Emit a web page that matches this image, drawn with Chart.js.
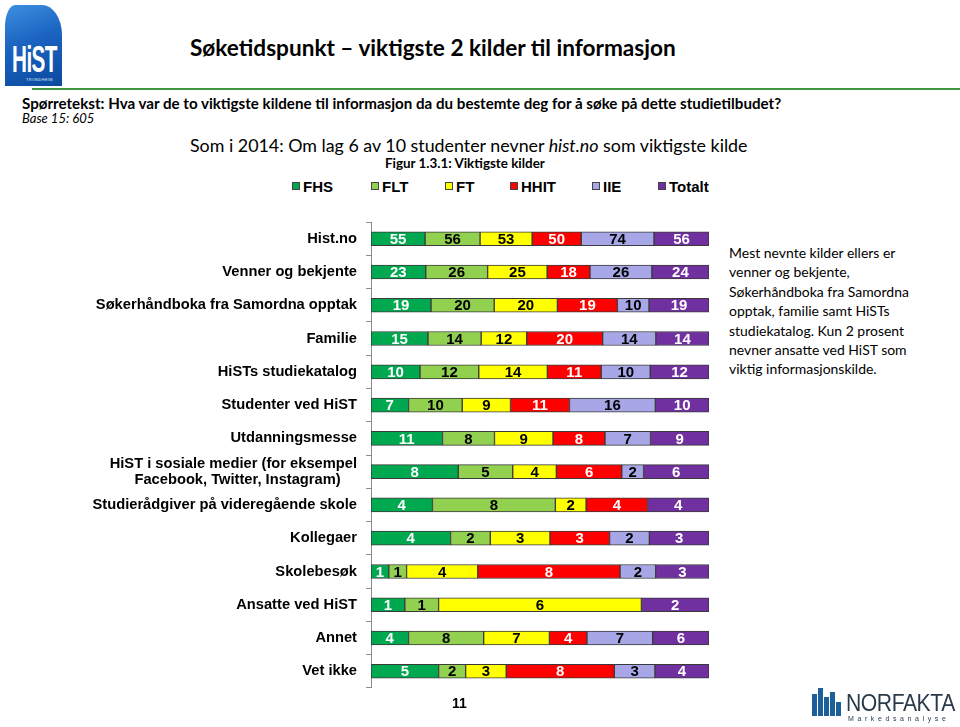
<!DOCTYPE html>
<html lang="no">
<head>
<meta charset="utf-8">
<title>Søketidspunkt – viktigste 2 kilder til informasjon</title>
<script src="https://cdn.jsdelivr.net/npm/chart.js@4"></script>
<style>
  html, body { margin: 0; padding: 0; background: #fff; }
  #page { position: relative; width: 960px; height: 727px; overflow: hidden; font-family: "Liberation Sans", Arial, sans-serif; color: #000; }
  .abs { position: absolute; white-space: nowrap; line-height: 1; }
  .cal { font-family: Lato, "Open Sans", sans-serif; }
  #logo { position: absolute; left: 5px; top: 5px; width: 57px; height: 81px; border-radius: 10px 20px 0 0 / 22px 30px 0 0;
          background: linear-gradient(160deg, #3d8fe0 0%, #1a63c0 45%, #0b4a9e 100%); overflow: hidden; }
  #logo .big { position: absolute; left: 7px; top: 34px; color: #fff; font: bold 37px "Liberation Sans", Arial, sans-serif; letter-spacing: -1px; transform: scaleX(0.56); transform-origin: left top; }
  #logo .small { position: absolute; left: 21px; top: 72px; color: #dfe9f7; font: 4px "Liberation Sans", Arial, sans-serif; letter-spacing: 0.3px; }
  #rule { position: absolute; left: 32px; top: 88px; width: 928px; height: 2px; background: #3f9a3f; }
  #chartBox { position: absolute; left: 0; top: 205px; width: 720px; height: 500px; }
  .leg-box { position: absolute; width: 6px; height: 6px; border: 1px solid #444; }
  .leg-txt { position: absolute; font: bold 15px "Liberation Sans", Arial, sans-serif; line-height: 1; }
  #side { position: absolute; left: 729px; top: 243px; font-size: 15.3px; line-height: 19.4px; white-space: nowrap; }
  #norfakta { position: absolute; left: 812px; top: 688px; width: 145px; height: 36px; }
  #norfakta .bar { position: absolute; bottom: 8px; background: #1d5f99; width: 5px; }
  #norfakta .name { position: absolute; left: 34px; top: 2px; font: 23px "Liberation Sans", Arial, sans-serif; color: #2a3a4a; letter-spacing: -0.5px; transform: scaleX(0.92); transform-origin: left top; }
  #norfakta .sub { position: absolute; left: 36px; top: 27px; font: 7px "Liberation Sans", Arial, sans-serif; color: #2a3a4a; letter-spacing: 3.6px; }
</style>
</head>
<body>
<div id="page">
  <div id="logo"><div class="big">HiST</div><div class="small">TRONDHEIM</div></div>
  <div class="abs cal" id="title" style="left:190px; top:37px; font-weight:bold; font-size:24px;">Søketidspunkt – viktigste 2 kilder til informasjon</div>
  <div id="rule"></div>
  <div class="abs cal" id="question" style="left:22px; top:96px; font-weight:bold; font-size:15px;">Spørretekst: Hva var de to viktigste kildene til informasjon da du bestemte deg for å søke på dette studietilbudet?</div>
  <div class="abs cal" id="base" style="left:22px; top:112px; font-style:italic; font-size:13px;">Base 15: 605</div>
  <div class="abs cal" id="headline" style="left:190px; top:137px; font-size:21px;">Som i 2014: Om lag 6 av 10 studenter nevner <i>hist.no</i> som viktigste kilde</div>
  <div class="abs cal" id="figur" style="left:385px; top:157px; font-weight:bold; font-size:13px;">Figur 1.3.1: Viktigste kilder</div>
  <div id="legend"></div>
  <div id="chartBox"><canvas id="chart" width="720" height="500"></canvas></div>
  <div id="side" class="cal">Mest nevnte kilder ellers er<br>venner og bekjente,<br>Søkerhåndboka fra Samordna<br>opptak, familie samt HiSTs<br>studiekatalog. Kun 2 prosent<br>nevner ansatte ved HiST som<br>viktig informasjonskilde.</div>
  <div class="abs" id="stray" style="left:452px; top:696px; font-weight:bold; font-size:14px;">11</div>
  <div id="norfakta">
    <div class="bar" style="left:0; height:22px;"></div>
    <div class="bar" style="left:6px; height:28px;"></div>
    <div class="bar" style="left:12px; height:19px;"></div>
    <div class="bar" style="left:18px; height:24px;"></div>
    <div class="bar" style="left:24px; height:14px;"></div>
    <div class="name">NORFAKTA</div>
    <div class="sub">Markedsanalyse</div>
  </div>
</div>
<script>
// Categories (top to bottom)
const categories = [
  "Hist.no",
  "Venner og bekjente",
  "Søkerhåndboka fra Samordna opptak",
  "Familie",
  "HiSTs studiekatalog",
  "Studenter ved HiST",
  "Utdanningsmesse",
  ["HiST i sosiale medier (for eksempel", "Facebook, Twitter, Instagram)    "],
  "Studierådgiver på videregående skole",
  "Kollegaer",
  "Skolebesøk",
  "Ansatte ved HiST",
  "Annet",
  "Vet ikke"
];

// Percent per group (0 = not shown)
const fhs    = [55, 23, 19, 15, 10,  7, 11, 8, 4, 4, 1, 1, 4, 5];
const flt    = [56, 26, 20, 14, 12, 10,  8, 5, 8, 2, 1, 1, 8, 2];
const ft     = [53, 25, 20, 12, 14,  9,  9, 4, 2, 3, 4, 6, 7, 3];
const hhit   = [50, 18, 19, 20, 11, 11,  8, 6, 4, 3, 8, 0, 4, 8];
const iie    = [74, 26, 10, 14, 10, 16,  7, 2, 0, 2, 2, 0, 7, 3];
const totalt = [56, 24, 19, 14, 12, 10,  9, 6, 4, 3, 3, 2, 6, 4];

const seriesNames = ["FHS", "FLT", "FT", "HHIT", "IIE", "Totalt"];
const seriesValues = [fhs, flt, ft, hhit, iie, totalt];
const seriesColors = ["#00a84f", "#92d050", "#ffff00", "#ff0000", "#a7a7e8", "#7030a0"];
const labelColors = ["#fff", "#000", "#000", "#fff", "#000", "#fff"];

// Legend (html, same spacing as the original)
const legendX = [292, 371, 445, 510, 592, 658];
const legend = document.getElementById("legend");
seriesNames.forEach((name, i) => {
  const box = document.createElement("div");
  box.className = "leg-box";
  box.style.left = legendX[i] + "px";
  box.style.top = "182px";
  box.style.background = seriesColors[i];
  legend.appendChild(box);
  const txt = document.createElement("div");
  txt.className = "leg-txt";
  txt.style.left = (legendX[i] + 11) + "px";
  txt.style.top = "179px";
  txt.textContent = name;
  legend.appendChild(txt);
});

// Stretch header texts to the widths they have in the original
function fitWidth(id, target) {
  const el = document.getElementById(id);
  const size = parseFloat(getComputedStyle(el).fontSize);
  el.style.fontSize = (size * target / el.getBoundingClientRect().width) + "px";
}
fitWidth("title", 486);
fitWidth("question", 760);
fitWidth("headline", 558);
fitWidth("figur", 160);
fitWidth("side", 180);

// Each row is shown as a 100% bar (share of the row total)
const rowTotals = categories.map((_, r) => seriesValues.reduce((s, arr) => s + arr[r], 0));

const valueLabels = {
  id: "valueLabels",
  afterDatasetsDraw(chart) {
    const ctx = chart.ctx;
    ctx.save();
    ctx.font = "bold 15px 'Liberation Sans', Arial, sans-serif";
    ctx.textAlign = "center";
    ctx.textBaseline = "middle";
    chart.data.datasets.forEach((ds, di) => {
      const meta = chart.getDatasetMeta(di);
      meta.data.forEach((bar, r) => {
        const v = seriesValues[di][r];
        if (!v) return;
        const p = bar.getCenterPoint();
        ctx.fillStyle = labelColors[di];
        ctx.fillText(String(v), p.x, p.y + 1);
      });
    });
    ctx.restore();
  }
};

const chart = new Chart(document.getElementById("chart"), {
  type: "bar",
  data: {
    labels: categories,
    datasets: seriesNames.map((name, i) => ({
      label: name,
      data: seriesValues[i].map((v, r) => v / rowTotals[r] * 100),
      backgroundColor: seriesColors[i],
      borderColor: "#3a3a3a",
      borderWidth: 1,
      borderSkipped: false,
      barThickness: 14
    }))
  },
  options: {
    indexAxis: "y",
    responsive: false,
    animation: false,
    layout: { padding: { left: 0, top: 9, right: 11, bottom: 11 } },
    plugins: { legend: { display: false }, tooltip: { enabled: false } },
    scales: {
      x: { stacked: true, display: false, min: 0, max: 100 },
      y: {
        stacked: true,
        afterFit: (s) => { s.width = 371; },
        border: { display: true, color: "#8c8c8c", width: 1 },
        grid: { drawOnChartArea: false, tickLength: 5, color: "#8c8c8c", offset: true },
        ticks: {
          autoSkip: false,
          padding: 9,
          color: "#000",
          font: { family: "'Liberation Sans', Arial, sans-serif", size: 14.7, weight: "bold", lineHeight: 1.1 }
        }
      }
    }
  },
  plugins: [valueLabels]
});
</script>
</body>
</html>
